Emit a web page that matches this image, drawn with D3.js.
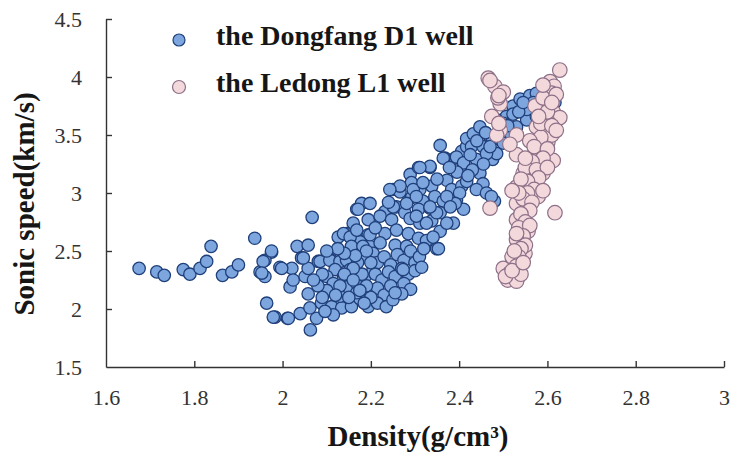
<!DOCTYPE html>
<html>
<head>
<meta charset="utf-8">
<script src="https://cdn.jsdelivr.net/npm/d3@7"></script>
<style>
  body { margin: 0; background: #fff; }
  svg text { font-family: "Liberation Serif", "Times New Roman", "DejaVu Serif", serif; }
</style>
</head>
<body>
<div id="chart"></div>
<script>
// tick values
var xTicks = [1.6, 1.8, 2, 2.2, 2.4, 2.6, 2.8, 3];
var yTicks = [1.5, 2, 2.5, 3, 3.5, 4, 4.5];

var seriesNames = ['the Dongfang D1 well', 'the Ledong L1 well'];

// [density g/cm3, sonic speed km/s]
var dongfang = [
  [1.675,2.35],[1.715,2.32],[1.732,2.29],[1.775,2.34],[1.79,2.30],[1.813,2.35],[1.828,2.41],[1.838,2.54],
  [1.864,2.29],[1.885,2.32],[1.900,2.38],[1.937,2.61],[1.949,2.32],[1.96,2.28],[1.964,2.05],[1.983,1.93],
  [2.011,1.92],[1.975,2.49],[1.96,2.42],[1.994,2.36],[2.021,2.35],[2.017,2.19],[2.024,2.25],[2.033,2.54],
  [2.058,2.55],[2.067,2.79],[2.040,1.96],[2.063,1.82],[2.077,1.92],[2.058,2.13],[2.062,2.01],[2.051,2.28],
  [2.058,2.35],[2.043,2.44],[2.081,2.41],[2.111,2.42],[1.956,2.41],[1.975,2.50],[1.953,2.31],[1.998,2.35],
  [2.047,2.44],[2.085,2.41],[2.107,2.42],[2.13,2.41],[2.145,2.42],[2.126,2.62],[2.145,2.65],[2.168,2.86],
  [2.179,2.91],[2.198,2.91],[2.164,2.68],[2.194,2.77],[2.194,2.64],[2.175,2.58],[2.198,2.54],[2.160,2.51],
  [2.179,2.44],[2.153,2.34],[2.119,2.34],[2.1,2.28],[2.138,2.28],[2.115,2.22],[2.145,2.19],[2.168,2.22],
  [2.187,2.28],[2.205,2.34],[2.1,2.16],[2.088,2.05],[2.111,2.02],[2.134,2.01],[2.156,2.02],[2.175,2.09],
  [2.194,2.02],[2.168,2.14],[2.130,2.11],[2.115,1.95],[2.096,1.98],[2.013,1.92],[1.979,1.93],
  [2.357,3.41],[2.368,3.30],[2.391,3.30],[2.406,3.36],[2.417,3.40],[2.41,3.23],[2.289,3.16],[2.308,3.22],
  [2.334,3.22],[2.292,3.09],[2.25,3.03],[2.266,3.01],[2.311,3.03],[2.338,3.06],[2.372,3.11],[2.383,3.03],
  [2.406,3.06],[2.292,2.96],[2.318,2.93],[2.345,2.97],[2.364,2.93],[2.394,2.94],[2.41,2.86],[2.387,2.74],
  [2.171,2.86],[2.232,2.84],[2.258,2.88],[2.277,2.83],[2.308,2.86],[2.334,2.87],[2.357,2.83],[2.221,2.80],
  [2.247,2.77],[2.289,2.78],[2.311,2.74],[2.338,2.76],[2.16,2.74],[2.138,2.65],[2.153,2.62],[2.168,2.68],
  [2.198,2.64],[2.232,2.65],[2.258,2.68],[2.285,2.65],[2.308,2.61],[2.326,2.59],[2.349,2.52],[2.156,2.54],
  [2.182,2.54],[2.221,2.57],[2.255,2.55],[2.281,2.54],
  [2.205,2.48],[2.215,2.40],[2.23,2.45],[2.245,2.38],[2.26,2.47],[2.275,2.42],[2.29,2.50],[2.21,2.30],
  [2.225,2.25],[2.24,2.32],[2.255,2.28],[2.27,2.35],[2.285,2.30],[2.30,2.40],[2.31,2.45],[2.215,2.18],
  [2.23,2.12],[2.245,2.20],[2.26,2.14],[2.275,2.22],[2.29,2.17],[2.215,2.05],[2.235,2.02],[2.25,2.08],
  [2.20,2.10],[2.19,2.20],[2.18,2.30],[2.17,2.40],[2.16,2.35],[2.14,2.30],[2.13,2.20],[2.15,2.10],
  [2.12,2.12],[2.175,2.16],[2.185,2.05],[2.16,2.25],[2.20,2.40],[2.19,2.50],[2.165,2.46],[2.14,2.48],
  [2.125,2.52],[2.10,2.50],[2.09,2.30],[2.08,2.20],[2.07,2.25],[2.09,2.10],[2.27,2.13],[2.32,2.52],
  [2.30,2.33],[2.315,2.36],
  [2.334,3.23],[2.311,3.22],[2.364,3.30],[2.394,3.31],[2.417,3.47],[2.432,3.51],[2.447,3.57],[2.428,3.40],
  [2.454,3.40],[2.469,3.49],[2.476,3.29],[2.439,3.29],[2.41,3.26],[2.447,3.17],[2.454,3.08],[2.439,3.03],
  [2.462,3.00],[2.48,2.93],[2.473,2.97],[2.417,3.10],[2.401,3.00],[2.391,2.91],[2.372,2.97],[2.38,2.88],
  [2.349,2.83],[2.357,2.67],[2.372,2.74],[2.341,2.62],[2.353,2.52],[2.326,2.74],[2.303,2.80],[2.281,2.91],
  [2.251,2.88],[2.266,3.06],[2.243,3.03],[2.296,3.03],[2.318,3.09],[2.303,2.97],[2.334,2.88],[2.255,2.14],
  [2.273,2.34],
  [2.522,3.75],[2.507,3.66],[2.538,3.81],[2.56,3.84],[2.575,3.86],[2.598,3.83],[2.53,3.57],[2.553,3.63],
  [2.575,3.66],[2.59,3.69],[2.613,3.63],[2.553,3.72],[2.493,3.54],[2.476,3.46],[2.5,3.43],[2.515,3.52],
  [2.485,3.34],[2.462,3.34],[2.522,3.68],[2.583,3.77],[2.601,3.74],[2.617,3.78],[2.568,3.78],[2.485,3.63],
  [2.44,3.45],[2.46,3.52],[2.425,3.33],[2.395,3.18],[2.378,3.22],[2.35,3.12],[2.43,3.20],[2.50,3.60],
  [2.535,3.70],[2.545,3.78],[2.51,3.58],[2.47,3.40],[2.455,3.25],[2.42,3.15],[2.24,2.92],[2.21,2.70]
];

var ledong = [
  [2.466,3.99],[2.481,3.92],[2.50,3.87],[2.493,3.77],[2.488,3.82],[2.474,3.66],[2.493,3.54],[2.485,3.50],
  [2.53,3.33],[2.47,2.87],[2.628,4.06],[2.606,3.96],[2.615,3.92],[2.609,3.86],[2.572,3.75],[2.613,3.70],
  [2.628,3.65],[2.575,3.57],[2.601,3.44],[2.579,3.36],[2.613,3.28],[2.545,3.17],[2.59,3.17],[2.53,3.05],
  [2.568,3.08],[2.579,2.97],[2.53,2.91],[2.617,2.83],[2.53,2.77],[2.556,2.67],[2.538,2.57],[2.549,2.48],
  [2.522,2.40],[2.50,2.35],[2.534,2.28],[2.515,2.31],
  [2.59,3.82],[2.60,3.62],[2.595,3.55],[2.61,3.50],[2.585,3.48],[2.56,3.45],[2.57,3.40],[2.60,3.38],
  [2.59,3.30],[2.565,3.27],[2.55,3.22],[2.575,3.20],[2.60,3.22],[2.58,3.13],[2.555,3.10],[2.54,3.12],
  [2.57,3.03],[2.555,3.00],[2.59,3.02],[2.545,2.95],[2.565,2.92],[2.56,2.85],[2.54,2.82],[2.55,2.75],
  [2.535,2.70],[2.56,2.72],[2.545,2.63],[2.53,2.60],[2.55,2.55],[2.54,2.52],[2.535,2.45],[2.52,2.45],
  [2.53,2.37],[2.51,2.25],[2.53,2.24],[2.54,2.30],[2.505,2.28],[2.52,2.33],[2.545,2.40],[2.525,2.50],
  [2.53,2.65],[2.535,3.00],[2.52,3.02],[2.55,3.30],[2.585,3.60],[2.61,3.58],[2.62,3.54],[2.6,3.70],
  [2.58,3.66],[2.53,3.50],[2.515,3.42],[2.49,3.60],[2.47,3.97],[2.49,3.84],[2.62,3.85],[2.61,3.78],
  [2.59,3.93]
];

var width = 732, height = 454;
var margin = {left: 106, right: 8, top: 19, bottom: 87};
var serif = '"Liberation Serif", "Times New Roman", "DejaVu Serif", serif';

var svg = d3.select('#chart')
  .append('svg')
  .attr('width', width)
  .attr('height', height);

var x = d3.scaleLinear().domain([1.6, 3]).range([margin.left, width - margin.right]);
var y = d3.scaleLinear().domain([1.5, 4.5]).range([height - margin.bottom, margin.top]);

// axes, ticks pointing inward
var xAxis = svg.append('g')
  .attr('transform', 'translate(0,' + y(1.5) + ')')
  .attr('font-family', serif)
  .call(d3.axisBottom(x).tickValues(xTicks).tickSize(-6).tickSizeOuter(0).tickPadding(22).tickFormat(d3.format('')));

var yAxis = svg.append('g')
  .attr('transform', 'translate(' + x(1.6) + ',0)')
  .attr('font-family', serif)
  .call(d3.axisLeft(y).tickValues(yTicks).tickSize(-6).tickSizeOuter(0).tickPadding(24).tickFormat(d3.format('')));

svg.selectAll('.domain, .tick line').attr('stroke', '#333').attr('stroke-width', 1.4);
svg.selectAll('.tick text')
  .attr('fill', '#333')
  .style('font-family', serif)
  .style('font-size', '22px');
// no tick marks where the axes meet
xAxis.selectAll('.tick').filter(function(d) { return d === 1.6; }).select('line').remove();
yAxis.selectAll('.tick').filter(function(d) { return d === 1.5; }).select('line').remove();

// points
svg.append('g').selectAll('circle')
  .data(dongfang)
  .enter().append('circle')
  .attr('cx', function(d) { return x(d[0]); })
  .attr('cy', function(d) { return y(d[1]); })
  .attr('r', 6.2)
  .attr('fill', '#7ea6de')
  .attr('stroke', '#1f3f7a')
  .attr('stroke-width', 1.3);

svg.append('g').selectAll('circle')
  .data(ledong)
  .enter().append('circle')
  .attr('cx', function(d) { return x(d[0]); })
  .attr('cy', function(d) { return y(d[1]); })
  .attr('r', 7.3)
  .attr('fill', '#f3d8dc')
  .attr('stroke', '#8e7088')
  .attr('stroke-width', 1.2);

// legend
var legend = svg.append('g');
var legendStyle = [
  {fill: '#7ea6de', stroke: '#1f3f7a', r: 6},
  {fill: '#f3d8dc', stroke: '#8e7088', r: 6.5}
];
seriesNames.forEach(function(name, i) {
  var cy = 40 + i * 47;
  legend.append('circle')
    .attr('cx', 179).attr('cy', cy).attr('r', legendStyle[i].r)
    .attr('fill', legendStyle[i].fill)
    .attr('stroke', legendStyle[i].stroke)
    .attr('stroke-width', 1.2);
  legend.append('text')
    .attr('x', 216).attr('y', cy + 5)
    .style('font-family', serif)
    .style('font-size', '28px')
    .style('font-weight', 'bold')
    .attr('fill', '#161616')
    .text(name);
});

// axis titles
svg.append('text')
  .attr('x', 418).attr('y', 446)
  .attr('text-anchor', 'middle')
  .style('font-family', serif)
  .style('font-size', '29px')
  .style('font-weight', 'bold')
  .attr('fill', '#161616')
  .text('Density(g/cm³)');

svg.append('text')
  .attr('transform', 'translate(34,204) rotate(-90)')
  .attr('text-anchor', 'middle')
  .style('font-family', serif)
  .style('font-size', '29px')
  .style('font-weight', 'bold')
  .attr('fill', '#161616')
  .text('Sonic speed(km/s)');
</script>
</body>
</html>
